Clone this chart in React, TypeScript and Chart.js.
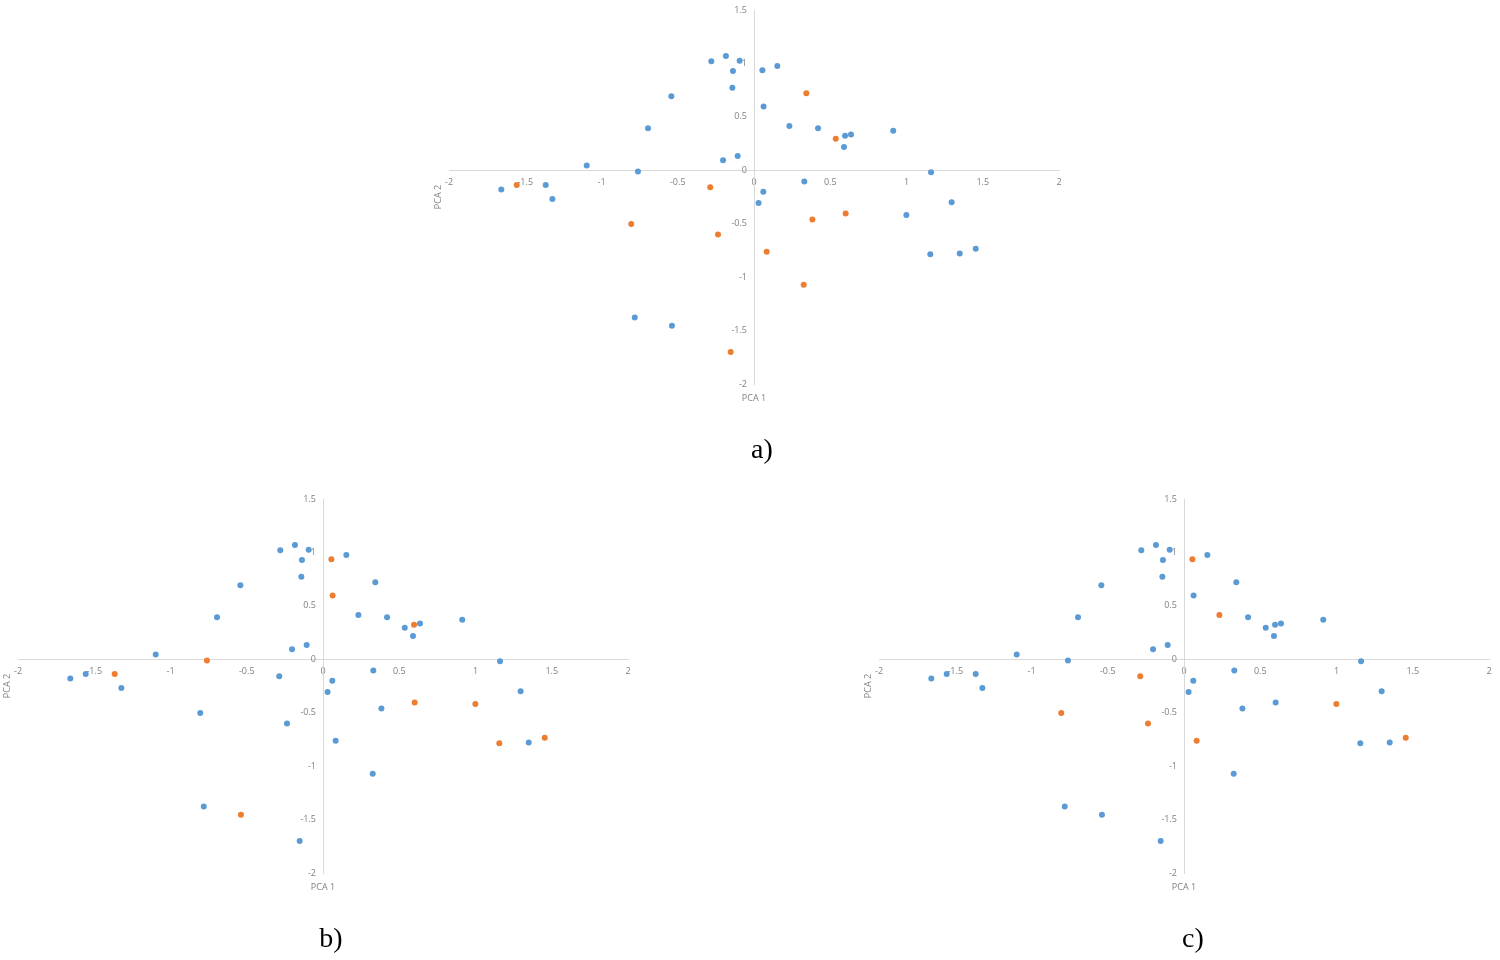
import React, { useEffect, useRef } from "react";
import { Chart, registerables } from "chart.js";

Chart.register(...registerables);

// PCA scores (same observations in all three panels)
const pca1 = [
  -0.28, -0.184, -0.094, -0.138, -0.142, -0.542, -0.695, -1.097, -0.761, -0.203,
  -0.107, -1.657, -1.366, -1.322, 0.055, 0.153, 0.063, 0.232, 0.42, 0.597,
  0.636, 0.59, 0.913, 1.161, 0.33, 0.061, 0.03, -0.782, -0.538, 0.999,
  1.296, 1.156, 1.349, 1.454, -1.556, -0.287, 0.343, 0.536, -0.805, -0.236,
  -0.153, 0.383, 0.601, 0.083, 0.326,
];
const pca2 = [
  1.02, 1.07, 1.025, 0.928, 0.773, 0.694, 0.393, 0.044, -0.012, 0.093,
  0.134, -0.18, -0.137, -0.268, 0.935, 0.975, 0.598, 0.414, 0.393, 0.324,
  0.336, 0.218, 0.371, -0.019, -0.106, -0.2, -0.305, -1.377, -1.455, -0.418,
  -0.299, -0.785, -0.779, -0.735, -0.137, -0.159, 0.722, 0.296, -0.502, -0.601,
  -1.7, -0.461, -0.405, -0.763, -1.072,
];

// class membership per panel (0 = blue, 1 = orange)
const groupA = [
  0, 0, 0, 0, 0, 0, 0, 0, 0, 0,
  0, 0, 0, 0, 0, 0, 0, 0, 0, 0,
  0, 0, 0, 0, 0, 0, 0, 0, 0, 0,
  0, 0, 0, 0, 1, 1, 1, 1, 1, 1,
  1, 1, 1, 1, 1,
];
const groupB = [
  0, 0, 0, 0, 0, 0, 0, 0, 1, 0,
  0, 0, 1, 0, 1, 0, 1, 0, 0, 1,
  0, 0, 0, 0, 0, 0, 0, 0, 1, 1,
  0, 1, 0, 1, 0, 0, 0, 0, 0, 0,
  0, 0, 1, 0, 0,
];
const groupC = [
  0, 0, 0, 0, 0, 0, 0, 0, 0, 0,
  0, 0, 0, 0, 1, 0, 0, 1, 0, 0,
  0, 0, 0, 0, 0, 0, 0, 0, 0, 1,
  0, 0, 0, 1, 0, 1, 0, 0, 1, 1,
  0, 0, 0, 1, 0,
];

const xRange = [-2, 2];
const yRange = [-2, 1.5];
const tickStep = 0.5;
const xTitle = "PCA 1";
const yTitle = "PCA 2";
const captions = ["a)", "b)", "c)"];

const BLUE = "#5B9BD5";
const ORANGE = "#ED7D31";
const AXIS = "#d9d9d9";
const TEXT = "#808080";
const FONT = "'Open Sans', 'Liberation Sans', sans-serif";

const PAD = { left: 40, right: 30, top: 25, bottom: 50 };
const AREA_W = 610;
const AREA_H = 374;

function Panel({ groups, areaLeft, areaTop }: { groups: number[]; areaLeft: number; areaTop: number }) {
  const ref = useRef<HTMLCanvasElement | null>(null);

  useEffect(() => {
    if (!ref.current) return;
    const blue: { x: number; y: number }[] = [];
    const orange: { x: number; y: number }[] = [];
    pca1.forEach((x, i) => (groups[i] ? orange : blue).push({ x, y: pca2[i] }));

    const titles = {
      id: "axisTitles",
      afterDraw(chart: any) {
        const { ctx, chartArea: a } = chart;
        ctx.save();
        ctx.fillStyle = TEXT;
        ctx.font = `9px ${FONT}`;
        ctx.textAlign = "center";
        ctx.textBaseline = "middle";
        ctx.fillText(xTitle, (a.left + a.right) / 2, a.bottom + 14);
        ctx.translate(a.left - 11, (a.top + a.bottom) / 2);
        ctx.rotate(-Math.PI / 2);
        ctx.fillText(yTitle, 0, 0);
        ctx.restore();
      },
    };

    const tickFont = { family: FONT, size: 9 };
    const chart = new Chart(ref.current, {
      type: "scatter",
      data: {
        datasets: [
          {
            label: "0",
            data: blue,
            backgroundColor: BLUE,
            borderColor: BLUE,
            borderWidth: 0,
            pointRadius: 3,
          },
          {
            label: "1",
            data: orange,
            backgroundColor: ORANGE,
            borderColor: ORANGE,
            borderWidth: 0,
            pointRadius: 3,
          },
        ],
      },
      options: {
        animation: false,
        responsive: false,
        maintainAspectRatio: false,
        layout: { padding: PAD },
        plugins: { legend: { display: false }, tooltip: { enabled: false } },
        scales: {
          x: {
            type: "linear",
            position: { y: 0 },
            min: xRange[0],
            max: xRange[1],
            grid: { display: false, drawTicks: false },
            border: { display: true, color: AXIS, width: 1 },
            ticks: {
              stepSize: tickStep,
              padding: 7,
              color: TEXT,
              font: tickFont,
              autoSkip: false,
              maxRotation: 0,
              callback: (v: any) => String(v),
            },
          },
          y: {
            type: "linear",
            position: { x: 0 },
            min: yRange[0],
            max: yRange[1],
            grid: { display: false, drawTicks: false },
            border: { display: true, color: AXIS, width: 1 },
            ticks: {
              stepSize: tickStep,
              color: TEXT,
              font: tickFont,
              autoSkip: false,
              // trailing spaces keep the right-aligned labels clear of the centred axis line
              callback: (v: any) => String(v) + "   ",
            },
          },
        },
      } as any,
      plugins: [titles],
    });
    return () => chart.destroy();
  }, [groups]);

  const w = AREA_W + PAD.left + PAD.right;
  const h = AREA_H + PAD.top + PAD.bottom;
  return (
    <canvas
      ref={ref}
      width={w}
      height={h}
      style={{ position: "absolute", left: areaLeft - PAD.left, top: areaTop - PAD.top, width: w, height: h }}
    />
  );
}

function Caption({ text, cx, cy }: { text: string; cx: number; cy: number }) {
  return (
    <div
      style={{
        position: "absolute",
        left: cx,
        top: cy,
        transform: "translate(-50%, -50%)",
        fontFamily: "'Liberation Serif', 'DejaVu Serif', serif",
        fontSize: 28,
        color: "#000",
        whiteSpace: "nowrap",
        lineHeight: 1,
      }}
    >
      {text}
    </div>
  );
}

export default function App() {
  return (
    <div
      style={{
        position: "absolute",
        left: 0,
        top: 0,
        width: 1500,
        height: 960,
        overflow: "hidden",
        background: "#fff",
      }}
    >
      <Panel groups={groupA} areaLeft={449} areaTop={10} />
      <Panel groups={groupB} areaLeft={18} areaTop={499} />
      <Panel groups={groupC} areaLeft={879} areaTop={499} />
      <Caption text={captions[0]} cx={762} cy={449} />
      <Caption text={captions[1]} cx={331} cy={938} />
      <Caption text={captions[2]} cx={1193} cy={938} />
    </div>
  );
}
